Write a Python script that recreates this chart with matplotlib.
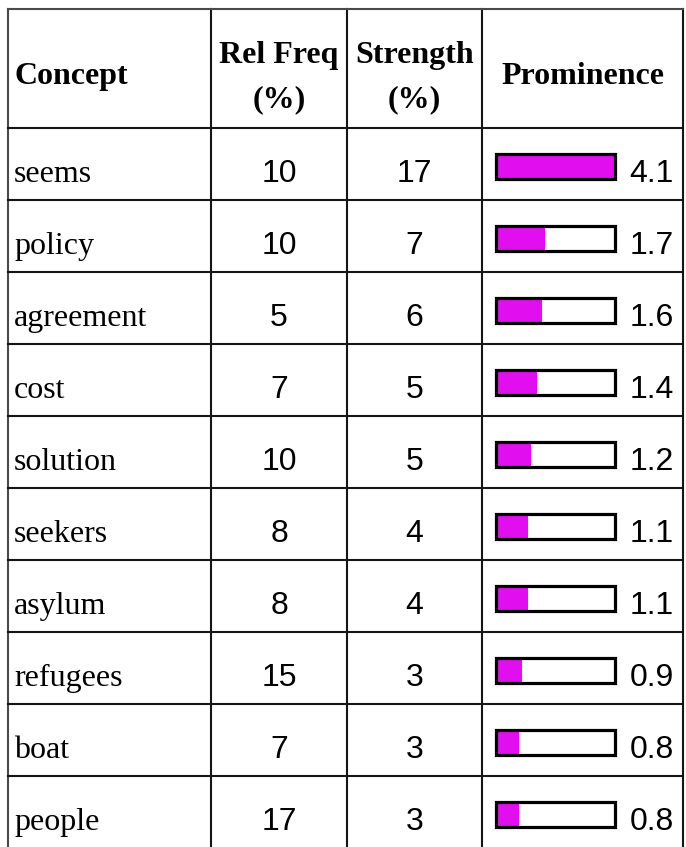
import matplotlib.pyplot as plt

concepts = ['seems', 'policy', 'agreement', 'cost', 'solution',
            'seekers', 'asylum', 'refugees', 'boat', 'people']
rel_freq = [10, 10, 5, 7, 10, 8, 8, 15, 7, 17]
strength = [17, 7, 6, 5, 5, 4, 4, 3, 3, 3]
prominence = [4.1, 1.7, 1.6, 1.4, 1.2, 1.1, 1.1, 0.9, 0.8, 0.8]
headers = ['Concept', 'Rel Freq\n(%)', 'Strength\n(%)', 'Prominence']

W, H = 686, 847
fig = plt.figure(figsize=(W / 100, H / 100), dpi=100)
ax = fig.add_axes([0, 0, 1, 1])
ax.set_xlim(0, W)
ax.set_ylim(H, 0)
ax.axis('off')

# table geometry in pixels
col_x = [7.5, 211, 347, 482, 683]
top, head_bot, row_h = 9, 128, 72
serif = 'Liberation Serif'
sans = 'Liberation Sans'
fs = 23
outer = '#4a4a4a'
inner = '#151515'
lw = 1.5

# grid lines
ax.plot([col_x[0], col_x[0]], [top, H], color=outer, lw=lw)
ax.plot([col_x[-1], col_x[-1]], [top, H], color=inner, lw=lw)
for x in col_x[1:-1]:
    ax.plot([x, x], [top, H], color=inner, lw=lw)
ax.plot([col_x[0], col_x[-1]], [top, top], color=outer, lw=lw)
for i in range(len(concepts)):
    y = head_bot + i * row_h
    ax.plot([col_x[0], col_x[-1]], [y, y], color=inner, lw=lw)

# header
ax.text(14, 84, headers[0], fontfamily=serif, fontweight='bold', fontsize=fs,
        ha='left', va='baseline')
for j in (1, 2):
    cx = (col_x[j] + col_x[j + 1]) / 2
    l1, l2 = headers[j].split('\n')
    ax.text(cx, 63, l1, fontfamily=serif, fontweight='bold', fontsize=fs,
            ha='center', va='baseline')
    ax.text(cx, 107, l2, fontfamily=serif, fontweight='bold', fontsize=fs,
            ha='center', va='baseline')
ax.text((col_x[3] + col_x[4]) / 2, 84, headers[3], fontfamily=serif,
        fontweight='bold', fontsize=fs, ha='center', va='baseline')

# rows
bar_x0, bar_w = 496, 119
pmax = max(prominence)
for i, c in enumerate(concepts):
    rt = head_bot + i * row_h
    base = rt + 54
    ax.text(14, base, c, fontfamily=serif, fontsize=fs, ha='left', va='baseline')
    ax.text((col_x[1] + col_x[2]) / 2, base, str(rel_freq[i]), fontfamily=sans,
            fontsize=fs, ha='center', va='baseline')
    ax.text((col_x[2] + col_x[3]) / 2, base, str(strength[i]), fontfamily=sans,
            fontsize=fs, ha='center', va='baseline')
    ax.barh(rt + 38.5, prominence[i] / pmax * bar_w, left=bar_x0, height=25,
            color='#e10ff0', edgecolor='none')
    ax.barh(rt + 38.5, bar_w, left=bar_x0, height=25, facecolor='none',
            edgecolor='black', lw=2.3)
    ax.text(674, base, '%.1f' % prominence[i], fontfamily=sans, fontsize=fs,
            ha='right', va='baseline')

fig.savefig('out.png', dpi=100)
